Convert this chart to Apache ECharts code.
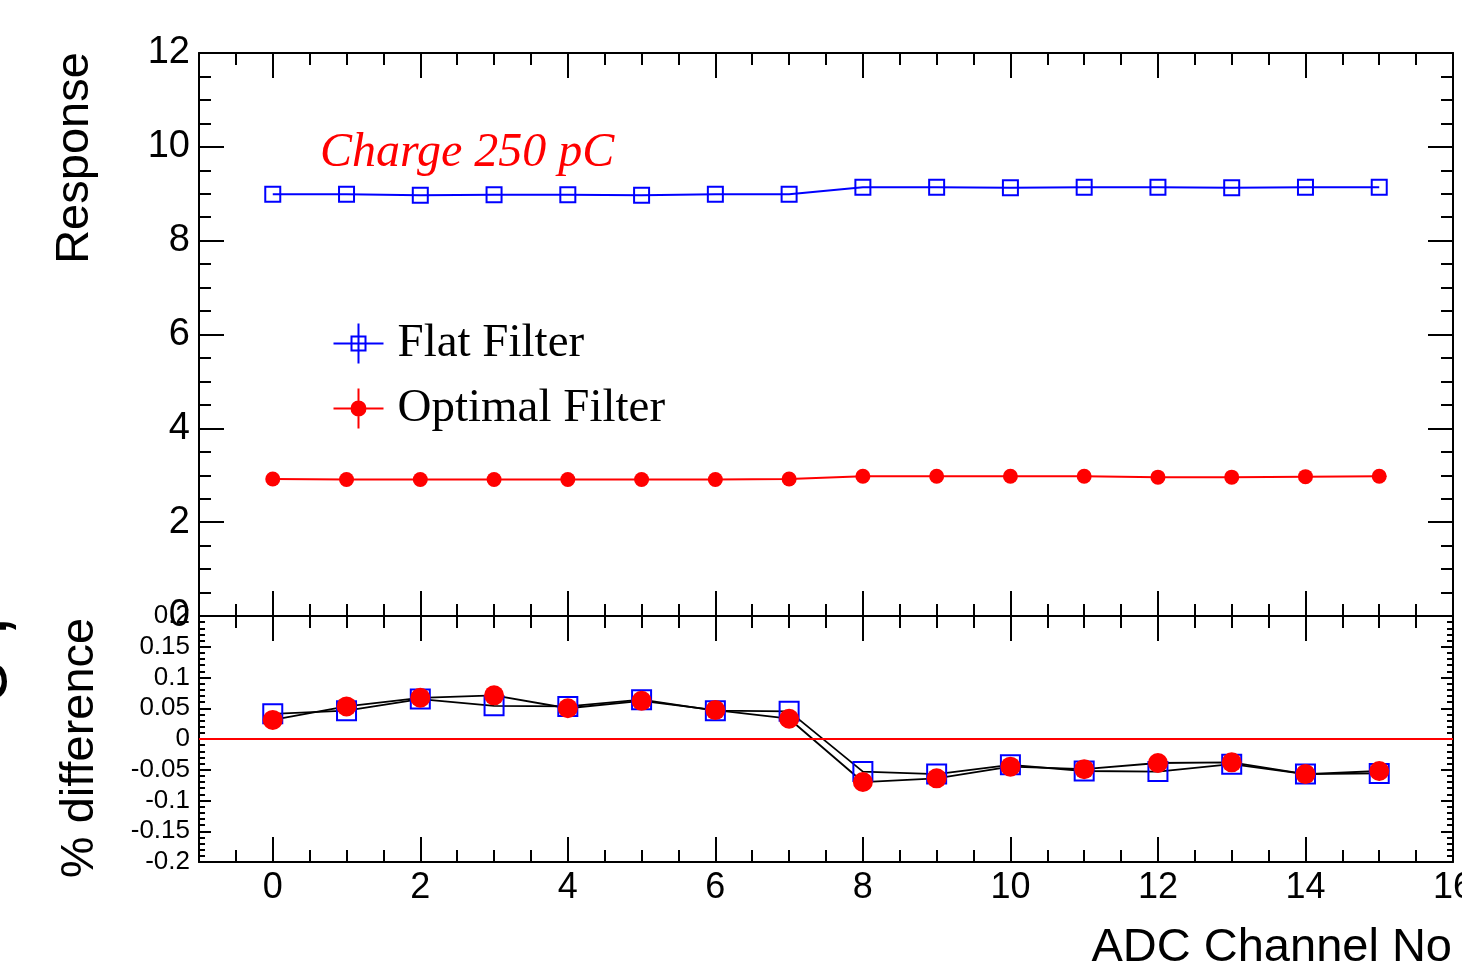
<!DOCTYPE html>
<html>
<head>
<meta charset="utf-8">
<script src="https://cdn.jsdelivr.net/npm/echarts@6/dist/echarts.min.js"></script>
<style>
  html, body { margin: 0; padding: 0; background: #fff; }
  #chart { width: 1462px; height: 964px; }
</style>
</head>
<body>
<div id="chart"></div>
<script>
// channel numbers on the x axis
const channels = [0, 1, 2, 3, 4, 5, 6, 7, 8, 9, 10, 11, 12, 13, 14, 15];
// response, top pad
const flatResponse = [8.99, 8.99, 8.97, 8.98, 8.98, 8.97, 8.99, 8.99, 9.14, 9.14, 9.13, 9.14, 9.14, 9.13, 9.14, 9.14];
const optimalResponse = [2.92, 2.91, 2.91, 2.91, 2.91, 2.91, 2.91, 2.92, 2.98, 2.98, 2.98, 2.98, 2.96, 2.96, 2.97, 2.98];
// % difference, bottom pad
const flatDiff = [0.041, 0.046, 0.065, 0.054, 0.053, 0.064, 0.046, 0.045, -0.053, -0.057, -0.042, -0.052, -0.053, -0.041, -0.057, -0.056];
const optimalDiff = [0.031, 0.053, 0.067, 0.071, 0.050, 0.062, 0.047, 0.033, -0.070, -0.064, -0.045, -0.049, -0.039, -0.038, -0.057, -0.052];
// major ticks / labels on the x axis
const xMajorTicks = [0, 2, 4, 6, 8, 10, 12, 14, 16];

const black = '#000';
const blue = '#0000ff';
const red = '#ff0000';
const sans = 'Liberation Sans';
const serif = 'Liberation Serif';

const pairs = (vals) => channels.map((c, i) => [c, vals[i]]);

function xMajor(grid, pos, showLabel) {
  return {
    type: 'value', gridIndex: grid, position: pos, min: -1, max: 16, splitNumber: 8,
    axisLine: { show: true, onZero: false, lineStyle: { color: black, width: 2 } },
    axisTick: { show: true, inside: true, length: 25, customValues: xMajorTicks, lineStyle: { color: black, width: 2 } },
    axisLabel: { show: showLabel, customValues: xMajorTicks, color: black, fontFamily: sans, fontSize: 36, margin: 8 },
    splitLine: { show: false },
  };
}

function xMinor(grid, pos) {
  return {
    type: 'value', gridIndex: grid, position: pos, min: -1, max: 16, interval: 0.5,
    axisLine: { show: false, onZero: false },
    axisTick: { show: true, inside: true, length: 12, lineStyle: { color: black, width: 2 } },
    axisLabel: { show: false },
    splitLine: { show: false },
  };
}

function yAx(grid, pos, min, max, interval, minorSplit, major, minor, labelSize) {
  return {
    type: 'value', gridIndex: grid, position: pos, min: min, max: max, interval: interval,
    axisLine: { show: true, onZero: false, lineStyle: { color: black, width: 2 } },
    axisTick: { show: true, inside: true, length: major, lineStyle: { color: black, width: 2 } },
    minorTick: { show: true, splitNumber: minorSplit, length: minor, lineStyle: { color: black, width: 2 } },
    axisLabel: { show: labelSize > 0, color: black, fontFamily: sans, fontSize: labelSize || 12, margin: 9 },
    splitLine: { show: false },
    minorSplitLine: { show: false },
  };
}

const chart = echarts.init(document.getElementById('chart'));

const option = {
  animation: false,
  backgroundColor: '#fff',
  grid: [
    { left: 199, top: 53, width: 1254, height: 563, containLabel: false, outerBoundsMode: 'none' },
    { left: 199, top: 616, width: 1254, height: 246, containLabel: false, outerBoundsMode: 'none' },
  ],
  xAxis: [
    xMajor(0, 'bottom', false),
    xMinor(0, 'bottom'),
    xMajor(0, 'top', false),
    xMinor(0, 'top'),
    xMajor(1, 'bottom', true),
    xMinor(1, 'bottom'),
    xMajor(1, 'top', false),
    xMinor(1, 'top'),
  ],
  yAxis: [
    yAx(0, 'left', 0, 12, 2, 4, 25, 12, 38),
    yAx(0, 'right', 0, 12, 2, 4, 25, 12, 0),
    yAx(1, 'left', -0.2, 0.2, 0.05, 5, 12, 6, 26),
    yAx(1, 'right', -0.2, 0.2, 0.05, 5, 12, 6, 0),
  ],
  legend: {
    left: 331, top: 320, orient: 'vertical', padding: 0,
    itemWidth: 50, itemHeight: 40, itemGap: 18,
    selectedMode: false,
    textStyle: { fontFamily: serif, fontSize: 47, color: black, lineHeight: 40, padding: [0, 0, 0, 9] },
    data: [
      {
        name: 'Flat Filter',
        icon: 'path://M0,20L50,20M25,0L25,40M18,13L32,13L32,27L18,27Z',
        itemStyle: { color: 'none', borderColor: blue, borderWidth: 2 },
      },
      {
        name: 'Optimal Filter',
        icon: 'path://M0,20L50,20M25,0L25,40M32,20A7,7,0,1,1,18,20A7,7,0,1,1,32,20Z',
        itemStyle: { color: red, borderColor: red, borderWidth: 2 },
      },
    ],
  },
  graphic: [
    { type: 'text', x: 75, y: 158, rotation: Math.PI / 2,
      style: { text: 'Response', font: '47px "Liberation Sans"', fill: black, align: 'center', verticalAlign: 'middle', textAlign: 'center', textVerticalAlign: 'middle' } },
    { type: 'text', x: 80, y: 748, rotation: Math.PI / 2,
      style: { text: '% difference', font: '47px "Liberation Sans"', fill: black, align: 'center', verticalAlign: 'middle', textAlign: 'center', textVerticalAlign: 'middle' } },
    { type: 'text', x: 1452, y: 948,
      style: { text: 'ADC Channel No', font: '47px "Liberation Sans"', fill: black, align: 'right', verticalAlign: 'middle', textAlign: 'right', textVerticalAlign: 'middle' } },
    { type: 'text', x: 320, y: 153,
      style: { text: 'Charge 250 pC', font: 'italic 48px "Liberation Serif"', fill: red, align: 'left', verticalAlign: 'middle', textAlign: 'left', textVerticalAlign: 'middle' } },
    { type: 'text', x: -16, y: 704, rotation: Math.PI / 2,
      style: { text: 'e ,', font: '80px "Liberation Sans"', fill: black, align: 'left', verticalAlign: 'middle', textAlign: 'left', textVerticalAlign: 'middle' } },
  ],
  series: [
    {
      name: 'Flat Filter', type: 'line', xAxisIndex: 0, yAxisIndex: 0,
      data: pairs(flatResponse),
      symbol: 'rect', symbolSize: 15,
      itemStyle: { color: 'rgba(0,0,0,0)', borderColor: blue, borderWidth: 2 },
      lineStyle: { color: blue, width: 2 },
      emphasis: { disabled: true },
    },
    {
      name: 'Optimal Filter', type: 'line', xAxisIndex: 0, yAxisIndex: 0,
      data: pairs(optimalResponse),
      symbol: 'circle', symbolSize: 15,
      itemStyle: { color: red },
      lineStyle: { color: red, width: 2 },
      emphasis: { disabled: true },
    },
    {
      name: 'Flat Filter diff', type: 'line', xAxisIndex: 4, yAxisIndex: 2,
      data: pairs(flatDiff),
      symbol: 'rect', symbolSize: 19,
      itemStyle: { color: 'rgba(0,0,0,0)', borderColor: blue, borderWidth: 2 },
      lineStyle: { color: black, width: 1.8 },
      emphasis: { disabled: true },
      markLine: {
        silent: true, symbol: ['none', 'none'],
        label: { show: false },
        lineStyle: { color: red, width: 2, type: 'solid' },
        data: [{ yAxis: 0 }],
      },
    },
    {
      name: 'Optimal Filter diff', type: 'line', xAxisIndex: 4, yAxisIndex: 2,
      data: pairs(optimalDiff),
      symbol: 'circle', symbolSize: 20,
      itemStyle: { color: red },
      lineStyle: { color: black, width: 1.8 },
      emphasis: { disabled: true },
    },
  ],
};

chart.setOption(option);
</script>
</body>
</html>
